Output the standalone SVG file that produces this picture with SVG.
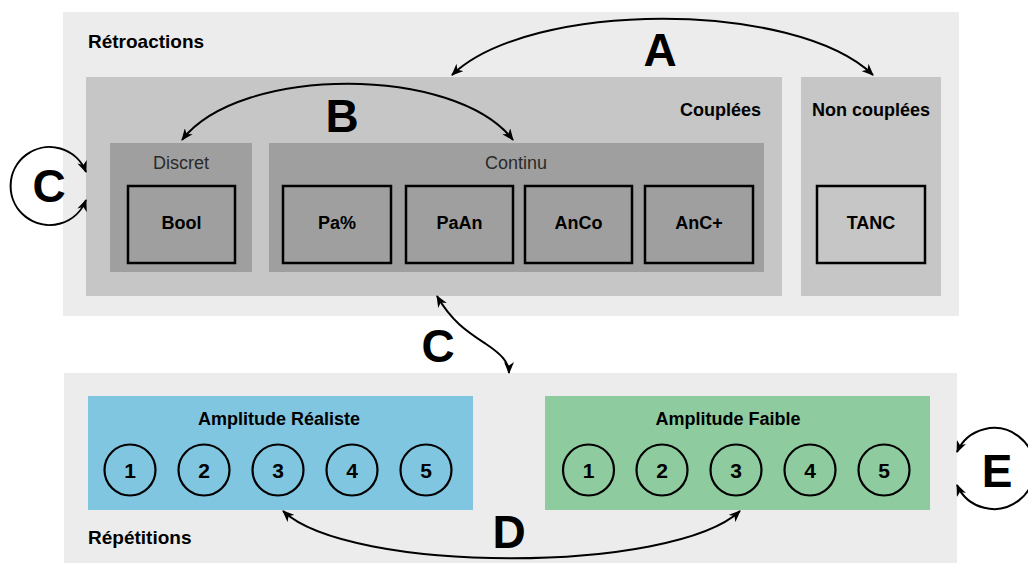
<svg xmlns="http://www.w3.org/2000/svg" width="1028" height="563" viewBox="0 0 1028 563">
<defs>
<style>
.outer{fill:#ececec}
.mid{fill:#c6c6c6}
.dark{fill:#9f9f9f}
.item{fill:#9f9f9f;stroke:#000;stroke-width:2.5}
.item2{fill:#c6c6c6;stroke:#000;stroke-width:2.5}
.rep{fill:none;stroke:#000;stroke-width:2.2}
text{font-family:"Liberation Sans",Arial,Helvetica,sans-serif;fill:#000}
.title{font-size:19px;font-weight:bold}
.sub{font-size:18px;font-weight:bold}
.light{font-size:18px;font-weight:normal;fill:#2a2a2a}
.lbl{font-size:18px;font-weight:bold;text-anchor:middle}
.num{font-size:21px;font-weight:bold;text-anchor:middle}
.big{font-size:46px;font-weight:bold;text-anchor:middle}
.conn{fill:none;stroke:#000;stroke-width:2;marker-start:url(#ah);marker-end:url(#ah)}
</style>
<marker id="ah" viewBox="0 0 12 10" refX="11" refY="5" markerWidth="12" markerHeight="10" markerUnits="userSpaceOnUse" orient="auto-start-reverse">
<path d="M0,0 L12,5 L0,10 L3.5,5 Z" fill="#000"/>
</marker>
</defs>

<g id="retroactions">
<rect class="outer" x="63" y="12" width="896" height="304"/>
<text class="title" x="88" y="48">Rétroactions</text>
</g>
<g id="couplees">
<rect class="mid" x="86" y="77" width="696" height="219"/>
<text class="sub" x="761" y="116" text-anchor="end">Couplées</text>
</g>
<g id="non-couplees">
<rect class="mid" x="801" y="77" width="140" height="219"/>
<text class="sub" x="871" y="116" text-anchor="middle">Non couplées</text>
</g>
<g id="discret">
<rect class="dark" x="110" y="143" width="142" height="129"/>
<text class="light" x="181" y="169" text-anchor="middle">Discret</text>
</g>
<g id="continu">
<rect class="dark" x="269" y="143" width="495" height="129"/>
<text class="light" x="516" y="169" text-anchor="middle">Continu</text>
</g>
<g id="bool"><rect class="item" x="128" y="186" width="107" height="77"/><text class="lbl" x="181.5" y="229">Bool</text></g>
<g id="pa-pct"><rect class="item" x="283" y="186" width="108" height="77"/><text class="lbl" x="337" y="229">Pa%</text></g>
<g id="paan"><rect class="item" x="406" y="186" width="107" height="77"/><text class="lbl" x="459.5" y="229">PaAn</text></g>
<g id="anco"><rect class="item" x="525" y="186" width="107" height="77"/><text class="lbl" x="578.5" y="229">AnCo</text></g>
<g id="ancplus"><rect class="item" x="645" y="186" width="108" height="77"/><text class="lbl" x="699" y="229">AnC+</text></g>
<g id="tanc"><rect class="item2" x="817" y="186" width="108" height="77"/><text class="lbl" x="871" y="229">TANC</text></g>

<g id="repetitions">
<rect class="outer" x="64" y="373" width="893" height="190"/>
<text class="title" x="88" y="544">Répétitions</text>
</g>
<g id="amplitude-realiste">
<rect x="88" y="396" width="385" height="114" fill="#80c6e1"/>
<text class="sub" x="279" y="425" text-anchor="middle">Amplitude Réaliste</text>
<circle class="rep" cx="130" cy="470" r="25.5"/><text class="num" x="130" y="478">1</text>
<circle class="rep" cx="204" cy="470" r="25.5"/><text class="num" x="204" y="478">2</text>
<circle class="rep" cx="278" cy="470" r="25.5"/><text class="num" x="278" y="478">3</text>
<circle class="rep" cx="352" cy="470" r="25.5"/><text class="num" x="352" y="478">4</text>
<circle class="rep" cx="426" cy="470" r="25.5"/><text class="num" x="426" y="478">5</text>
</g>
<g id="amplitude-faible">
<rect x="545" y="396" width="385" height="114" fill="#8ecb9e"/>
<text class="sub" x="728" y="425" text-anchor="middle">Amplitude Faible</text>
<circle class="rep" cx="588.5" cy="470" r="25.5"/><text class="num" x="588.5" y="478">1</text>
<circle class="rep" cx="662" cy="470" r="25.5"/><text class="num" x="662" y="478">2</text>
<circle class="rep" cx="736" cy="470" r="25.5"/><text class="num" x="736" y="478">3</text>
<circle class="rep" cx="810" cy="470" r="25.5"/><text class="num" x="810" y="478">4</text>
<circle class="rep" cx="884" cy="470" r="25.5"/><text class="num" x="884" y="478">5</text>
</g>

<g id="connectors">
<path class="conn" d="M452,75 C530,0 795,0 873,75"/>
<text class="big" x="660" y="66">A</text>
<path class="conn" d="M182,140 C240,65 455,65 513,140"/>
<text class="big" x="342" y="132">B</text>
<path class="conn" d="M86,172 A39,39 0 1 0 86,200"/>
<text class="big" x="49" y="202">C</text>
<path class="conn" d="M437,296 C452,322 468,332 486,344 C501,354 509,362 509,373"/>
<text class="big" x="438" y="362">C</text>
<path class="conn" d="M283,511 C350,574 672,574 740,511"/>
<text class="big" x="509" y="548">D</text>
<path class="conn" d="M957,452 A40.5,40.5 0 1 1 957,485"/>
<text class="big" x="997" y="487">E</text>
</g>
</svg>
